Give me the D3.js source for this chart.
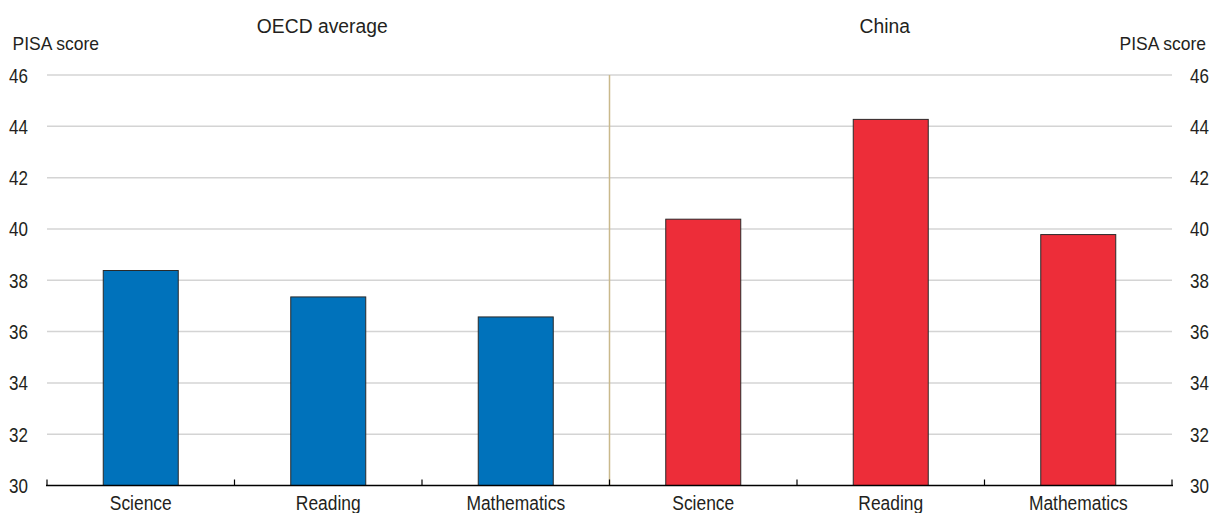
<!DOCTYPE html>
<html>
<head>
<meta charset="utf-8">
<script src="https://cdn.jsdelivr.net/npm/d3@7"></script>
<style>
  body { margin: 0; background: #fff; }
  svg { display: block; font-family: "Liberation Sans", Arial, sans-serif; }
</style>
</head>
<body>
<svg id="chart" width="1211" height="513"></svg>
<script>
const panels = ["OECD average", "China"];
const subjects = ["Science", "Reading", "Mathematics"];
const oecdValues = [38.38, 37.35, 36.57];
const chinaValues = [40.38, 44.27, 39.78];
const yTicks = [30, 32, 34, 36, 38, 40, 42, 44, 46];
const yLabel = "PISA score";
const colors = ["#0072bb", "#ed2d39"];

(function () {
const data = [];
[oecdValues, chinaValues].forEach((vals, p) => {
  subjects.forEach((s, i) => data.push({ panel: panels[p], subject: s, key: panels[p] + "|" + s, value: vals[i], p }));
});

const svg = d3.select("#chart");
const mLeft = 47, mRight = 1172, mTop = 75, mBottom = 485.5;

const x = d3.scaleBand().domain(data.map(d => d.key)).range([mLeft, mRight]).paddingInner(0.6).paddingOuter(0.3);
const xb = d3.scaleBand().domain(data.map(d => d.key)).range([mLeft, mRight]);
const y = d3.scaleLinear().domain([30, 46]).range([mBottom, mTop]);

function label(g, tx, ty, str, size, sx, anchor) {
  return g.append("text")
    .attr("transform", `translate(${tx},${ty}) scale(${sx},1)`)
    .attr("text-anchor", anchor).attr("font-size", size).attr("fill", "#231f20")
    .text(str);
}

// gridlines
svg.append("g").selectAll("line").data(yTicks.filter(t => t > 30)).join("line")
  .attr("x1", mLeft).attr("x2", mRight)
  .attr("y1", d => y(d)).attr("y2", d => y(d))
  .attr("stroke", "#d4d4d4").attr("stroke-width", 1.5);

// divider
const divX = xb(data[3].key);
svg.append("line").attr("x1", divX).attr("x2", divX).attr("y1", y(46)).attr("y2", mBottom)
  .attr("stroke", "#c9b98c").attr("stroke-width", 1.5);

// bars
svg.append("g").selectAll("rect").data(data).join("rect")
  .attr("x", d => x(d.key)).attr("width", x.bandwidth())
  .attr("y", d => y(d.value)).attr("height", d => y(30) - y(d.value))
  .attr("fill", d => colors[d.p]).attr("stroke", "#2a2a2a").attr("stroke-width", 1);

// x axis baseline & ticks
const xg = svg.append("g");
xg.append("line").attr("x1", mLeft - 1).attr("x2", mRight + 1).attr("y1", mBottom).attr("y2", mBottom)
  .attr("stroke", "#000").attr("stroke-width", 1.5);
const tickXs = data.map(d => xb(d.key)).concat([mRight]);
xg.selectAll("line.t").data(tickXs).join("line").attr("class", "t")
  .attr("x1", d => d).attr("x2", d => d).attr("y1", mBottom).attr("y2", mBottom - 6)
  .attr("stroke", "#000").attr("stroke-width", 1.2);
data.forEach(d => label(xg, xb(d.key) + xb.bandwidth() / 2, 510, d.subject, 21, 0.83, "middle"));

// y axis labels
const yl = svg.append("g");
yTicks.forEach(t => {
  label(yl, 28, y(t) + 7.5, t, 21, 0.81, "end");
  label(yl, 1190, y(t) + 7.5, t, 21, 0.81, "start");
});

label(svg, 12.5, 50, yLabel, 18.6, 0.94, "start");
label(svg, 1206, 50, yLabel, 18.6, 0.94, "end");

// panel titles
panels.forEach((p, i) => {
  const k0 = xb(data[i * 3].key), k1 = xb(data[i * 3 + 2].key) + xb.bandwidth();
  label(svg, (k0 + k1) / 2 - 6, 33, p, 21, 0.92, "middle");
});
})();
</script>
</body>
</html>
